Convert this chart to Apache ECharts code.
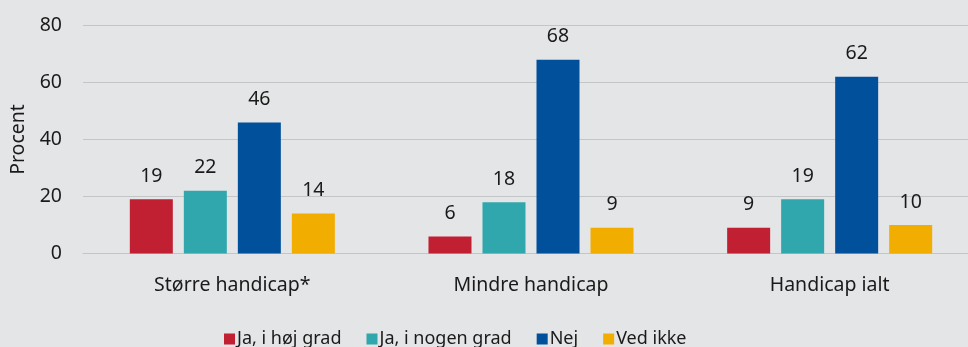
<!DOCTYPE html>
<html>
<head>
<meta charset="utf-8">
<script src="https://cdn.jsdelivr.net/npm/echarts@6/dist/echarts.min.js"></script>
<style>
  html, body { margin: 0; padding: 0; background: #e4e5e7; overflow: hidden; }
  #chart { width: 981px; height: 347px; }
</style>
</head>
<body>
<div id="chart"></div>
<script>
// Categories and answer shares (percent)
const categories = ['Større handicap*', 'Mindre handicap', 'Handicap ialt'];
const seriesNames = ['Ja, i høj grad', 'Ja, i nogen grad', 'Nej', 'Ved ikke'];
const jaHoejGrad = [19, 6, 9];
const jaNogenGrad = [22, 18, 19];
const nej = [46, 68, 62];
const vedIkke = [14, 9, 10];
const yTicks = [0, 20, 40, 60, 80];

const colors = ['#c11f32', '#2fa7ac', '#00509b', '#f2ae00'];
const values = [jaHoejGrad, jaNogenGrad, nej, vedIkke];
const FONT = 'Noto Sans';
const TXT = '#1a1a1a';
const FS = 19.5;

const chart = echarts.init(document.getElementById('chart'), null, { renderer: 'canvas' });

chart.setOption({
  backgroundColor: '#e4e5e7',
  animation: false,
  textStyle: { fontFamily: FONT, color: TXT },
  grid: { left: 83, top: 25.5, right: 2, bottom: 93.5, containLabel: false },
  legend: {
    top: 325,
    left: 219,
    itemWidth: 11,
    itemHeight: 11,
    itemGap: 25,
    icon: 'rect',
    textStyle: { fontFamily: FONT, fontSize: 18, color: TXT, padding: [0, 0, 0, -3] },
    data: seriesNames
  },
  xAxis: {
    type: 'category',
    data: categories,
    axisLine: { show: true, lineStyle: { color: '#c4c5c7', width: 1 } },
    axisTick: { show: false },
    axisLabel: { fontFamily: FONT, fontSize: FS, color: TXT, margin: 22 }
  },
  yAxis: {
    type: 'value',
    min: yTicks[0],
    max: yTicks[yTicks.length - 1],
    interval: 20,
    name: 'Procent',
    nameLocation: 'middle',
    nameGap: 55,
    nameTextStyle: { fontFamily: FONT, fontSize: FS, color: TXT },
    axisLine: { show: false },
    axisTick: { show: false },
    axisLabel: { fontFamily: FONT, fontSize: FS, color: TXT, margin: 21 },
    splitLine: { lineStyle: { color: '#c4c5c7', width: 1 } }
  },
  series: values.map((v, i) => ({
    name: seriesNames[i],
    type: 'bar',
    data: v,
    barWidth: 43,
    barGap: '25.6%',
    itemStyle: { color: colors[i] },
    label: {
      show: true,
      position: 'top',
      distance: 13,
      fontFamily: FONT,
      fontSize: FS,
      color: TXT
    }
  }))
});
</script>
</body>
</html>
